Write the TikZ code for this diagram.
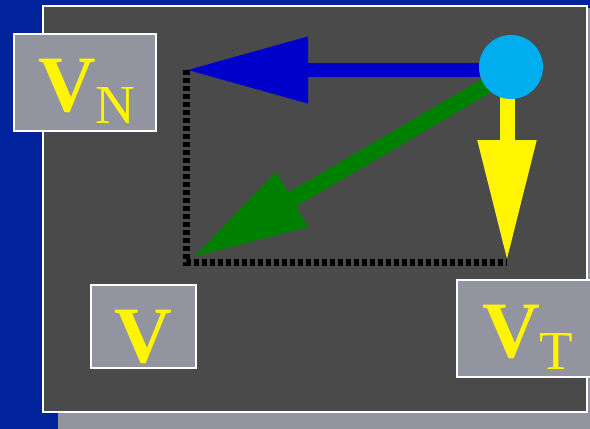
\documentclass[tikz,border=0pt]{standalone}
\usepackage{fontspec}
\setmainfont{Liberation Serif}
\usepackage{tikz}
\usetikzlibrary{arrows.meta,calc}
\definecolor{slidebg}{RGB}{0,35,155}
\definecolor{panelgray}{RGB}{74,74,74}
\definecolor{boxgray}{RGB}{146,148,160}
\definecolor{hubcyan}{RGB}{0,174,239}
\definecolor{vnblue}{RGB}{0,0,205}
\definecolor{vgreen}{RGB}{0,128,0}
\definecolor{vtyellow}{RGB}{255,245,0}
\tikzset{
  label box/.style={
    rectangle,
    draw=white,
    fill=boxgray,
    line width=2.5pt,
    inner sep=0pt
  },
  vec label/.style={
    text=vtyellow,
    inner sep=0pt,
    font=\fontsize{80}{80}\selectfont\bfseries
  },
  vec arrow/.style={
    line width=#1,
    line cap=butt
  },
  guide/.style={
    draw=black,
    line width=7pt,
    dash pattern=on 5.3pt off 2.7pt
  }
}
\newcommand{\subtxt}[1]{\raisebox{-12pt}{\fontsize{55}{55}\selectfont\mdseries #1}}

\begin{document}
\begin{tikzpicture}[x=1pt,y=-1pt]
  % frame
  \useasboundingbox (0,0) rectangle (590,429);
  \fill[slidebg] (0,0) rectangle (590,429);
  \fill[boxgray] (58,8) rectangle (610,440);
  \draw[draw=white, line width=2pt, fill=panelgray] (43,6) rectangle (587,412);

  % points
  \coordinate (hub) at (511,67);
  \coordinate (nTip) at (186,70);
  \coordinate (tTip) at (507,262);
  \coordinate (vTip) at (192,258);

  % components
  \draw[guide] (nTip) -- (nTip |- tTip) -- (tTip);
  \draw[vec arrow=14pt, vnblue, -{Triangle[length=122pt,width=63pt]}] (hub |- nTip) -- (nTip);
  \draw[vec arrow=15pt, vtyellow, -{Triangle[length=122pt,width=55pt]}] (hub -| tTip) -- (tTip);
  \draw[vec arrow=16pt, vgreen, -{Triangle[length=116pt,width=59pt]}] ([shift={(-6,8)}]hub) -- (vTip);
  \node[circle, fill=hubcyan, minimum size=64pt, inner sep=0pt] (hubdot) at (hub) {};

  % labels
  \node[label box, minimum width=142pt, minimum height=97pt] (vnbox) at (85,82.5) {};
  \node[vec label, anchor=base west] (vntext) at (38,111) {V\subtxt{N}};
  \node[label box, minimum width=105pt, minimum height=83pt] (vbox) at (143.5,326.5) {};
  \node[vec label, anchor=base] (vtext) at (143,362) {V};
  \node[label box, minimum width=142pt, minimum height=97pt] (vtbox) at (528,328.5) {};
  \node[vec label, anchor=base west] (vttext) at (482,357) {V\subtxt{T}};
\end{tikzpicture}
\end{document}
